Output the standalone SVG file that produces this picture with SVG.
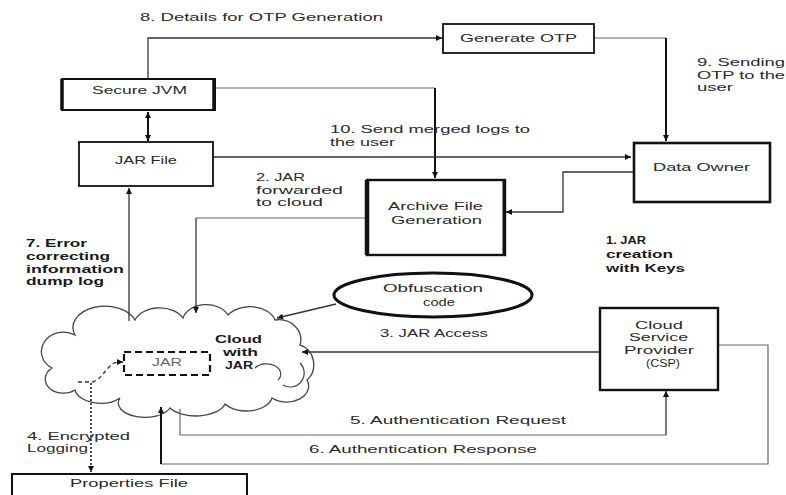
<svg xmlns="http://www.w3.org/2000/svg" width="786" height="495" viewBox="0 0 786 495">
<defs>
<marker id="ah" viewBox="0 0 10 10" refX="10" refY="5" markerWidth="7" markerHeight="6" markerUnits="userSpaceOnUse" orient="auto-start-reverse"><path d="M0,0 L10,5 L0,10 Z" fill="#111"/></marker>
<style>
text{font-family:"Liberation Sans","Noto Sans",sans-serif;font-size:11px;fill:#2a2a2a}
.b{font-weight:bold;fill:#1a1a1a}
.box{fill:#fff;stroke:#111;stroke-width:2}
.thick{stroke:#111;stroke-width:4}
.c{fill:none;stroke:#333;stroke-width:1.3}
.cg{fill:none;stroke:#666;stroke-width:1.2}
.ct{fill:none;stroke:#111;stroke-width:2}
</style>
</defs>
<rect width="786" height="495" fill="#fff"/>

<g id="cloud">
<path fill="#fff" stroke="#444" stroke-width="1.3" d="M75,335 A30,20 0 0 1 135,320 A26,18 0 0 1 183,318 A24,18 0 0 1 228,315 A26,18 0 0 1 275,320 A22,20 0 0 1 300,345 A18,20 0 0 1 307,380 A22,16 0 0 1 272,398 A26,16 0 0 1 225,404 A30,16 0 0 1 170,408 A26,14 0 0 1 120,398 A26,16 0 0 1 75,390 A18,14 0 0 1 52,368 A16,14 0 0 1 75,335 Z"/>
<path fill="none" stroke="#444" stroke-width="1.2" d="M255,368 A14,10 0 0 1 278,380"/>
<path fill="none" stroke="#444" stroke-width="1.2" d="M300,363 A14,14 0 0 1 283,385"/>
<text class="b" x="215" y="343" textLength="47" lengthAdjust="spacingAndGlyphs">Cloud</text>
<text class="b" x="223" y="356" textLength="35" lengthAdjust="spacingAndGlyphs">with</text>
<text class="b" x="225" y="369" textLength="28" lengthAdjust="spacingAndGlyphs">JAR</text>
</g>

<g id="jar-inner">
<rect x="124" y="352" width="86" height="23" fill="none" stroke="#111" stroke-width="2.2" stroke-dasharray="7,4"/>
<text x="152" y="366" textLength="30" lengthAdjust="spacingAndGlyphs" style="fill:#666">JAR</text>
</g>

<g id="connectors">
<path class="c" d="M148,78 V38 H442" marker-end="url(#ah)"/>
<path class="cg" d="M594,38 H666"/>
<path class="ct" d="M666,38 V141" marker-end="url(#ah)"/>
<path class="cg" d="M216,88 H435"/>
<path class="ct" d="M435,88 V178" marker-end="url(#ah)"/>
<path class="ct" d="M148,112 V141" marker-start="url(#ah)" marker-end="url(#ah)"/>
<path class="c" d="M213,157 H631" marker-end="url(#ah)"/>
<path class="c" d="M633,172 H563 V212 H506" marker-end="url(#ah)"/>
<path class="cg" d="M366,218 H196"/>
<path class="c" d="M196,218 V313" marker-end="url(#ah)"/>
<path class="c" d="M129,321 V188" marker-end="url(#ah)"/>
<path class="c" d="M336,304 L277,318" marker-end="url(#ah)"/>
<path class="c" d="M599,352 H302" marker-end="url(#ah)"/>
<path class="cg" d="M180,409 V435 H666"/>
<path class="c" d="M666,435 V391" marker-end="url(#ah)"/>
<path class="cg" d="M718,345 H768 V464 H161"/>
<path class="ct" d="M161,464 V407" marker-end="url(#ah)"/>
<path fill="none" stroke="#333" stroke-width="1.3" stroke-dasharray="4,3" d="M78,382 H92 C100,380 104,372 110,366 C114,362 118,362 123,362" marker-end="url(#ah)"/>
<path fill="none" stroke="#222" stroke-width="1.6" stroke-dasharray="2,2" d="M91,383 V472" marker-end="url(#ah)"/>
</g>

<g id="secure-jvm">
<rect class="box" x="62" y="79" width="153" height="31"/>
<path class="thick" d="M62,79 V110 M214,79 V110" style="stroke-width:3.5"/>
<text x="92" y="94" textLength="95" lengthAdjust="spacingAndGlyphs">Secure JVM</text>
</g>

<g id="generate-otp">
<rect class="box" x="443" y="24" width="151" height="29" style="stroke-width:1.8"/>
<text x="460" y="42" textLength="117" lengthAdjust="spacingAndGlyphs">Generate OTP</text>
</g>

<g id="jar-file">
<rect class="box" x="79" y="142" width="134" height="44" style="stroke-width:1.8"/>
<text x="115" y="164" textLength="62" lengthAdjust="spacingAndGlyphs">JAR File</text>
</g>

<g id="data-owner">
<rect class="box" x="634" y="143" width="136" height="59" style="stroke-width:2.6"/>
<text x="653" y="171" textLength="97" lengthAdjust="spacingAndGlyphs">Data Owner</text>
</g>

<g id="archive">
<rect class="box" x="367" y="180" width="138" height="75" style="stroke-width:2.4"/>
<path class="thick" d="M367,180 V255" style="stroke-width:4.5"/>
<path class="thick" d="M504,180 V255" style="stroke-width:3"/>
<text x="388" y="210" textLength="95" lengthAdjust="spacingAndGlyphs">Archive File</text>
<text x="391" y="224" textLength="91" lengthAdjust="spacingAndGlyphs">Generation</text>
</g>

<g id="obfuscation">
<ellipse cx="433" cy="295" rx="99" ry="22" fill="#fff" stroke="#111" stroke-width="3"/>
<text x="383" y="292" textLength="100" lengthAdjust="spacingAndGlyphs">Obfuscation</text>
<text x="423" y="306" textLength="32" lengthAdjust="spacingAndGlyphs">code</text>
</g>

<g id="csp">
<rect class="box" x="600" y="308" width="118" height="82" style="stroke-width:2.4"/>
<text x="635" y="329" textLength="48" lengthAdjust="spacingAndGlyphs">Cloud</text>
<text x="629" y="341" textLength="59" lengthAdjust="spacingAndGlyphs">Service</text>
<text x="624" y="354" textLength="70" lengthAdjust="spacingAndGlyphs">Provider</text>
<text x="646" y="367" textLength="34" lengthAdjust="spacingAndGlyphs">(CSP)</text>
</g>

<g id="properties">
<rect class="box" x="12" y="474" width="235" height="30" style="stroke-width:2"/>
<text x="70" y="487" textLength="118" lengthAdjust="spacingAndGlyphs">Properties File</text>
</g>

<g id="labels">
<text x="140" y="21" textLength="243" lengthAdjust="spacingAndGlyphs">8. Details for OTP Generation</text>
<text x="697" y="66" textLength="88" lengthAdjust="spacingAndGlyphs">9. Sending</text>
<text x="697" y="79" textLength="88" lengthAdjust="spacingAndGlyphs">OTP to the</text>
<text x="697" y="91" textLength="36" lengthAdjust="spacingAndGlyphs">user</text>
<text x="330" y="133" textLength="200" lengthAdjust="spacingAndGlyphs">10. Send merged logs to</text>
<text x="330" y="146" textLength="65" lengthAdjust="spacingAndGlyphs">the user</text>
<text x="256" y="181" textLength="49" lengthAdjust="spacingAndGlyphs">2. JAR</text>
<text x="256" y="194" textLength="87" lengthAdjust="spacingAndGlyphs">forwarded</text>
<text x="256" y="206" textLength="67" lengthAdjust="spacingAndGlyphs">to cloud</text>
<text class="b" x="606" y="244" textLength="40" lengthAdjust="spacingAndGlyphs">1. JAR</text>
<text class="b" x="606" y="258" textLength="67" lengthAdjust="spacingAndGlyphs">creation</text>
<text class="b" x="606" y="272" textLength="79" lengthAdjust="spacingAndGlyphs">with Keys</text>
<text class="b" x="26" y="247" textLength="61" lengthAdjust="spacingAndGlyphs">7. Error</text>
<text class="b" x="26" y="260" textLength="84" lengthAdjust="spacingAndGlyphs">correcting</text>
<text class="b" x="26" y="273" textLength="98" lengthAdjust="spacingAndGlyphs">information</text>
<text class="b" x="26" y="285" textLength="78" lengthAdjust="spacingAndGlyphs">dump log</text>
<text x="380" y="337" textLength="108" lengthAdjust="spacingAndGlyphs">3. JAR Access</text>
<text x="350" y="424" textLength="216" lengthAdjust="spacingAndGlyphs">5. Authentication Request</text>
<text x="309" y="453" textLength="228" lengthAdjust="spacingAndGlyphs">6. Authentication Response</text>
<text x="27" y="440" textLength="103" lengthAdjust="spacingAndGlyphs">4. Encrypted</text>
<text x="27" y="452" textLength="61" lengthAdjust="spacingAndGlyphs">Logging</text>
</g>
</svg>
